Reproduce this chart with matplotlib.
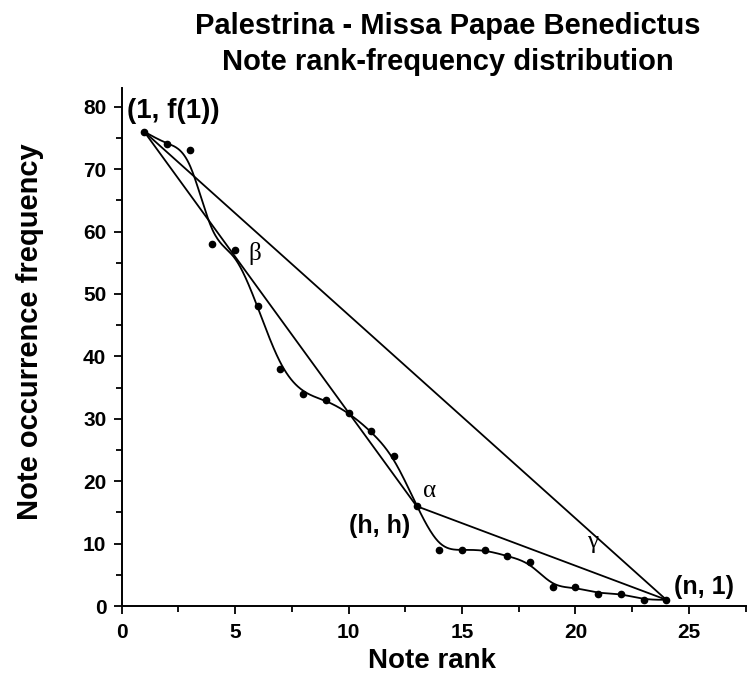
import numpy as np
import matplotlib
matplotlib.use('Agg')
import matplotlib.pyplot as plt
from matplotlib.ticker import MultipleLocator

plt.rcParams['font.family'] = ['Liberation Sans', 'DejaVu Sans']

# note rank and occurrence frequency
rank = [1, 2, 3, 4, 5, 6, 7, 8, 9, 10, 11, 12,
        13, 14, 15, 16, 17, 18, 19, 20, 21, 22, 23, 24]
freq = [76, 74, 73, 58, 57, 48, 38, 34, 33, 31, 28, 24,
        16, 9, 9, 9, 8, 7, 3, 3, 2, 2, 1, 1]
h_rank = 13

title_lines = ['Palestrina - Missa Papae Benedictus', 'Note rank-frequency distribution']


def bspline(xs, ys, steps=30):
    # uniform cubic B-spline with the data points as control points, clamped at the ends
    px = np.r_[[xs[0]] * 2, xs, [xs[-1]] * 2].astype(float)
    py = np.r_[[ys[0]] * 2, ys, [ys[-1]] * 2].astype(float)
    t = np.linspace(0, 1, steps, endpoint=False)
    b0 = (1 - t) ** 3 / 6
    b1 = (3 * t ** 3 - 6 * t ** 2 + 4) / 6
    b2 = (-3 * t ** 3 + 3 * t ** 2 + 3 * t + 1) / 6
    b3 = t ** 3 / 6
    cx, cy = [], []
    for i in range(len(px) - 3):
        cx.append(b0 * px[i] + b1 * px[i + 1] + b2 * px[i + 2] + b3 * px[i + 3])
        cy.append(b0 * py[i] + b1 * py[i + 1] + b2 * py[i + 2] + b3 * py[i + 3])
    cx.append([xs[-1]])
    cy.append([ys[-1]])
    return np.concatenate(cx), np.concatenate(cy)


fig = plt.figure(figsize=(7.47, 6.75), dpi=100)
ax = fig.add_axes([0.1627, 0.1022, 0.8356, 0.7674])

sx, sy = bspline(rank, freq)
ax.plot(sx, sy, color='black', lw=1.3)
ax.plot(rank, freq, 'o', color='black', ms=4.5)

ih = rank.index(h_rank)
ax.plot([rank[0], rank[-1]], [freq[0], freq[-1]], color='black', lw=1.3)
ax.plot([rank[0], rank[ih]], [freq[0], freq[ih]], color='black', lw=1.3)
ax.plot([rank[ih], rank[-1]], [freq[ih], freq[-1]], color='black', lw=1.3)

ax.text(0.25, 77.3, '(1, f(1))', fontsize=20, fontweight='bold', ha='left', va='bottom')
ax.text(12.7, 14.8, '(h, h)', fontsize=18, fontweight='bold', ha='right', va='top')
ax.text(24.35, 1.2, '(n, 1)', fontsize=18, fontweight='bold', ha='left', va='bottom')
ax.text(5.6, 56.5, 'β', fontsize=18, family='Liberation Serif', ha='left', va='center')
ax.text(13.3, 18.5, 'α', fontsize=18, family='Liberation Serif', ha='left', va='center')
ax.text(20.5, 10.3, 'γ', fontsize=18, family='Liberation Serif', ha='left', va='center')

ax.set_xlim(0, 27.5)
ax.set_ylim(0, 83)
ax.spines['top'].set_visible(False)
ax.spines['right'].set_visible(False)
ax.spines['left'].set_linewidth(1.4)
ax.spines['bottom'].set_linewidth(1.4)
ax.xaxis.set_major_locator(MultipleLocator(5))
ax.xaxis.set_minor_locator(MultipleLocator(2.5))
ax.yaxis.set_major_locator(MultipleLocator(10))
ax.yaxis.set_minor_locator(MultipleLocator(5))
ax.tick_params(which='major', direction='out', length=6, width=1.3, labelsize=15)
ax.tick_params(which='minor', direction='out', length=4, width=1.3)
for lab in ax.get_xticklabels() + ax.get_yticklabels():
    lab.set_fontweight('bold')
ax.tick_params(axis='x', pad=6)
ax.tick_params(axis='y', pad=5)

fig.text(432 / 747, 1 - 661 / 675, 'Note rank', fontsize=20, fontweight='bold', ha='center', va='center')
fig.text(30 / 747, 1 - 332 / 675, 'Note occurrence frequency', fontsize=21, fontweight='bold',
         ha='center', va='center', rotation=90)
fig.text(448 / 747, 1 - 26 / 675, title_lines[0], fontsize=21, fontweight='bold', ha='center', va='center')
fig.text(448 / 747, 1 - 62 / 675, title_lines[1], fontsize=21, fontweight='bold', ha='center', va='center')

fig.savefig('out.png', dpi=100)
